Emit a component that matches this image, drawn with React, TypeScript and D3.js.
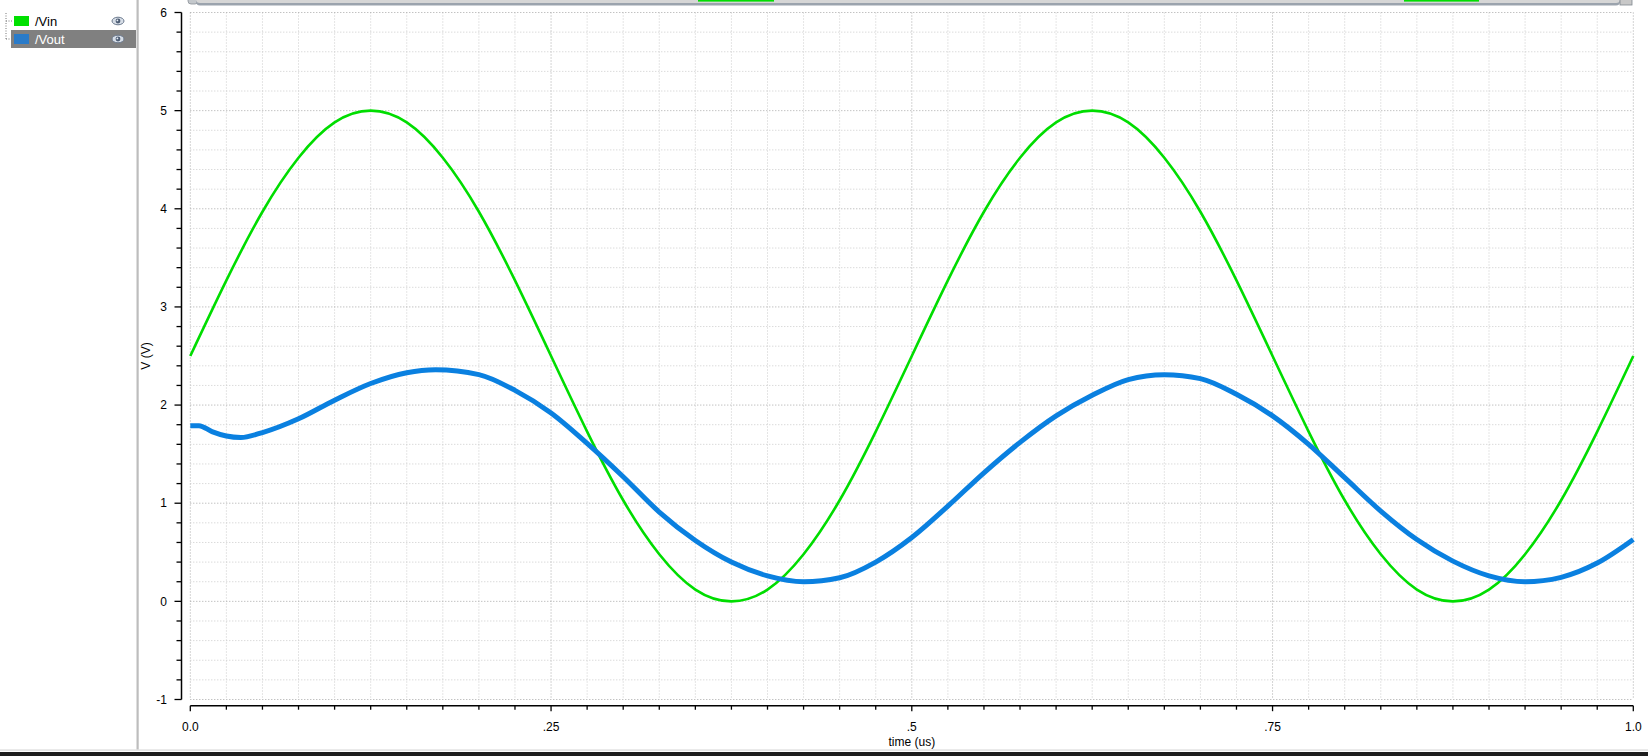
import React from 'react';
import * as d3 from 'd3';

// sample times (us)
const times = [
  0, 0.025, 0.05, 0.075, 0.1, 0.125, 0.15, 0.175, 0.2, 0.225,
  0.25, 0.275, 0.3, 0.325, 0.35, 0.375, 0.4, 0.425, 0.45, 0.475,
  0.5, 0.525, 0.55, 0.575, 0.6, 0.625, 0.65, 0.675, 0.7, 0.725,
  0.75, 0.775, 0.8, 0.825, 0.85, 0.875, 0.9, 0.925, 0.95, 0.975, 1.0,
];

const vin = [
  2.5, 3.27, 3.97, 4.52, 4.88, 5.0, 4.88, 4.52, 3.97, 3.27,
  2.5, 1.73, 1.03, 0.48, 0.12, 0.0, 0.12, 0.48, 1.03, 1.73,
  2.5, 3.27, 3.97, 4.52, 4.88, 5.0, 4.88, 4.52, 3.97, 3.27,
  2.5, 1.73, 1.03, 0.48, 0.12, 0.0, 0.12, 0.48, 1.03, 1.73, 2.5,
];

const voutTimes = [
  0, 0.006, 0.015, 0.025, 0.035, 0.05, 0.075, 0.1, 0.125, 0.15, 0.17,
  0.2, 0.225, 0.25, 0.275, 0.3, 0.325, 0.35, 0.375, 0.4, 0.425,
  0.45, 0.475, 0.5, 0.525, 0.55, 0.575, 0.6, 0.625, 0.65, 0.675,
  0.7, 0.725, 0.75, 0.775, 0.8, 0.825, 0.85, 0.875, 0.9, 0.925,
  0.95, 0.975, 1.0,
];

const vout = [
  1.79, 1.79, 1.73, 1.685, 1.67, 1.72, 1.86, 2.05, 2.22, 2.33, 2.36,
  2.31, 2.15, 1.92, 1.61, 1.27, 0.91, 0.62, 0.4, 0.26, 0.2,
  0.24, 0.4, 0.65, 0.97, 1.31, 1.62, 1.89, 2.1, 2.26, 2.31,
  2.27, 2.11, 1.89, 1.6, 1.26, 0.92, 0.63, 0.41, 0.26, 0.2,
  0.245, 0.39, 0.63,
];

const xTickValues = [0, 0.25, 0.5, 0.75, 1.0];
const xTickLabels = ['0.0', '.25', '.5', '.75', '1.0'];
const yTickValues = [-1, 0, 1, 2, 3, 4, 5, 6];

const legendItems = ['/Vin', '/Vout'];
const legendColors = ['#00e000', '#2a7bc9'];
const seriesColors = ['#00dd00', '#0a80e0'];

const W = 1648;
const H = 756;
const FONT = '"Liberation Sans", Arial, sans-serif';

const Eye: React.FC<{ x: number; y: number }> = ({ x, y }) => (
  <g transform={`translate(${x},${y})`}>
    <ellipse rx={6} ry={3.8} fill="#d6dde6" stroke="#6c7a8e" strokeWidth={1} />
    <circle r={2.4} fill="#4d5d74" />
    <circle r={0.9} cx={-0.6} cy={-0.6} fill="#e8eef5" />
  </g>
);

const App: React.FC = () => {
  const x = d3.scaleLinear().domain([0, 1]).range([190.3, 1633.3]);
  const y = d3.scaleLinear().domain([-1, 6]).range([699.5, 12.5]);

  const vinLine = d3.line<[number, number]>()
    .x(d => x(d[0]))
    .y(d => y(d[1]))
    .curve(d3.curveNatural);

  const voutLine = d3.line<[number, number]>()
    .x(d => x(d[0]))
    .y(d => y(d[1]))
    .curve(d3.curveMonotoneX);

  const vinPath = vinLine(times.map((t, i) => [t, vin[i]] as [number, number])) || '';
  const voutPath = voutLine(voutTimes.map((t, i) => [t, vout[i]] as [number, number])) || '';

  const xMinor = d3.range(0, 41).map(i => i * 0.025);
  const yMinor = d3.range(0, 36).map(i => -1 + i * 0.2);
  const axisX = 181.5;
  const axisY = 705.7;

  return (
    <svg width={W} height={H} style={{ position: 'absolute', left: 0, top: 0, display: 'block', background: '#fff' }}
      fontFamily={FONT}>
      <rect x={0} y={0} width={W} height={H} fill="#fff" />

      {/* grid */}
      <g>
        {xMinor.map((v, i) => (
          <line key={'gx' + i} x1={x(v)} x2={x(v)} y1={y(6)} y2={y(-1)}
            stroke={i % 10 === 0 ? '#a8a8a8' : '#cbcbcb'} strokeWidth={1} strokeDasharray="1,2" />
        ))}
        {yMinor.map((v, i) => (
          <line key={'gy' + i} x1={x(0)} x2={x(1)} y1={y(v)} y2={y(v)}
            stroke={i % 5 === 0 ? '#a8a8a8' : '#cbcbcb'} strokeWidth={1} strokeDasharray="1,2" />
        ))}
      </g>

      {/* y axis */}
      <g>
        <line x1={axisX} x2={axisX} y1={y(6)} y2={y(-1)} stroke="#000" strokeWidth={1.5} />
        {yMinor.map((v, i) => (
          <line key={'yt' + i} x1={axisX - (i % 5 === 0 ? 7 : 5)} x2={axisX} y1={y(v)} y2={y(v)}
            stroke="#000" strokeWidth={1.3} />
        ))}
        {yTickValues.map(v => (
          <text key={'yl' + v} x={167} y={y(v)} dy="0.35em" textAnchor="end" fontSize={12} fill="#000">
            {v}
          </text>
        ))}
        <text transform={`translate(150,${y(2.5)}) rotate(-90)`} textAnchor="middle" fontSize={12} fill="#000">
          V (V)
        </text>
      </g>

      {/* x axis */}
      <g>
        <line x1={x(0)} x2={x(1)} y1={axisY} y2={axisY} stroke="#000" strokeWidth={1.5} />
        {xMinor.map((v, i) => (
          <line key={'xt' + i} x1={x(v)} x2={x(v)} y1={axisY} y2={axisY + (i % 10 === 0 ? 5.5 : 4)}
            stroke="#000" strokeWidth={1.3} />
        ))}
        {xTickValues.map((v, i) => (
          <text key={'xl' + i} x={x(v)} y={730.5} textAnchor="middle" fontSize={12} fill="#000">
            {xTickLabels[i]}
          </text>
        ))}
        <text x={x(0.5)} y={746} textAnchor="middle" fontSize={12} fill="#000">time (us)</text>
      </g>

      {/* traces */}
      <path d={vinPath} fill="none" stroke={seriesColors[0]} strokeWidth={2.6} strokeLinejoin="round" />
      <path d={voutPath} fill="none" stroke={seriesColors[1]} strokeWidth={5} strokeLinejoin="round" />

      {/* top scroll bar */}
      <g>
        <rect x={188} y={-3} width={10} height={7} rx={3} fill="#c4c8cc" stroke="#8a9098" strokeWidth={0.8} />
        <rect x={196} y={-4} width={1424} height={9.5} rx={4} fill="#9ba3ad" />
        <rect x={196} y={-4} width={1424} height={7} rx={4} fill="#d6d6d6" />
        <rect x={1620} y={-3} width={12} height={8} fill="#c8c8c8" stroke="#808890" strokeWidth={0.8} />
        <rect x={698} y={0} width={76} height={1.6} fill="#00dd00" />
        <rect x={1404} y={0} width={75} height={1.6} fill="#00dd00" />
      </g>

      {/* left legend panel */}
      <g>
        <rect x={136.5} y={0} width={2.2} height={750} fill="#bdbdbd" />
        <line x1={6} x2={6} y1={13} y2={39} stroke="#777" strokeWidth={1} strokeDasharray="1,1.5" />
        <line x1={6} x2={12} y1={21} y2={21} stroke="#777" strokeWidth={1} strokeDasharray="1,1.5" />
        <line x1={6} x2={12} y1={39} y2={39} stroke="#777" strokeWidth={1} strokeDasharray="1,1.5" />
        <rect x={11} y={30} width={125} height={18} fill="#808080" />
        {legendItems.map((name, i) => (
          <g key={name} transform={`translate(0,${i * 18})`}>
            <rect x={14} y={16} width={15} height={10} fill={legendColors[i]} />
            <text x={35} y={25.5} fontSize={13} fill={i === 1 ? '#fff' : '#000'}>{name}</text>
            <Eye x={118} y={21} />
          </g>
        ))}
      </g>

      {/* bottom border */}
      <rect x={0} y={749.3} width={W} height={1.5} fill="#e2e2e2" />
      <rect x={0} y={752} width={W} height={4} fill="#1e1e1e" />
    </svg>
  );
};

export default App;
